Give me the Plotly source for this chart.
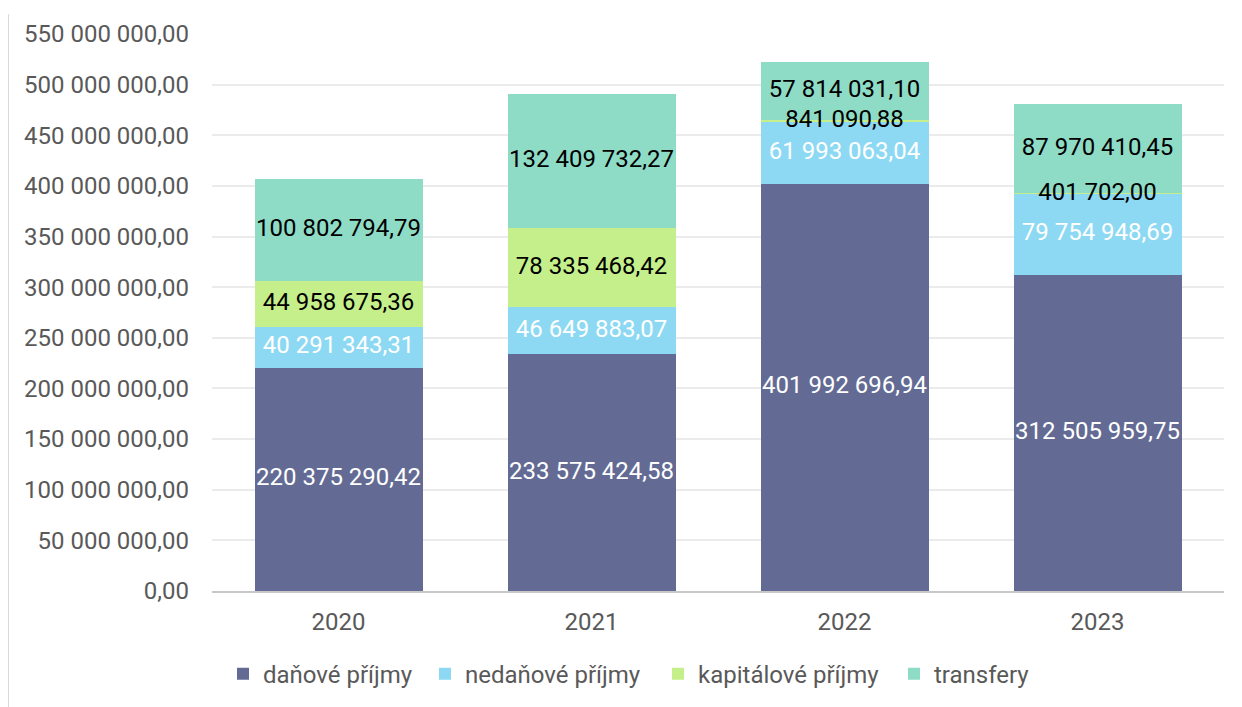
import plotly.graph_objects as go

years = ["2020", "2021", "2022", "2023"]
danove = [220375290.42, 233575424.58, 401992696.94, 312505959.75]
nedanove = [40291343.31, 46649883.07, 61993063.04, 79754948.69]
kapitalove = [44958675.36, 78335468.42, 841090.88, 401702.00]
transfery = [100802794.79, 132409732.27, 57814031.10, 87970410.45]

series = [
    ("daňové příjmy", danove, "#636b94", "white"),
    ("nedaňové příjmy", nedanove, "#8dd9f3", "white"),
    ("kapitálové příjmy", kapitalove, "#c5ef8a", "black"),
    ("transfery", transfery, "#8edcc6", "black"),
]

tick_values = [i * 50_000_000 for i in range(12)]


def fmt(v):
    s = f"{v:,.2f}"
    return s.replace(",", " ").replace(".", ",")


FONT = "Roboto"
FS = 24
# page body has 8px margin -> compensate
L, R, T, B = 204, 26, 20, 124
PW = 1242 - L - R
PH = 707 - T - B
legend_text_px = [255, 457, 690, 926]  # figure coords of legend text starts

fig = go.Figure()
base = [0.0] * len(years)
label_traces = []
legend_names = ["legend", "legend2", "legend3", "legend4"]
for i, (name, vals, color, tcolor) in enumerate(series):
    fig.add_trace(go.Bar(
        x=years, y=vals, name=name,
        marker=dict(color=color, line=dict(width=0)),
        hoverinfo="skip", legend=legend_names[i],
    ))
    mids = [b + v / 2 for b, v in zip(base, vals)]
    label_traces.append(go.Scatter(
        x=years, y=mids, mode="text", text=[fmt(v) for v in vals],
        textfont=dict(family=FONT, size=FS, color=tcolor),
        showlegend=False, hoverinfo="skip",
    ))
    base = [b + v for b, v in zip(base, vals)]
for t in label_traces:
    fig.add_trace(t)

legend_common = dict(orientation="h", yanchor="middle", y=(PH - 667 + T) / PH,
                     xanchor="left", font=dict(family=FONT, size=FS, color="#595959"),
                     itemclick=False, bgcolor="rgba(0,0,0,0)")
legends = {}
for i, ln in enumerate(legend_names):
    legends[ln] = dict(legend_common, x=(legend_text_px[i] - 40 - L) / PW)

fig.update_layout(
    width=1242, height=707,
    barmode="stack", bargap=0.336,
    paper_bgcolor="white", plot_bgcolor="white",
    margin=dict(l=L, r=R, t=T, b=B),
    font=dict(family=FONT, size=FS, color="#595959"),
    showlegend=True,
    xaxis=dict(showgrid=False, showline=True, linecolor="#c8c8c8", linewidth=2,
               ticks="", ticklabelstandoff=8,
               tickfont=dict(size=FS, color="#595959")),
    yaxis=dict(range=[0, 550_000_000], tickvals=tick_values,
               ticktext=[fmt(v) for v in tick_values],
               showgrid=True, gridcolor="#ebebeb", gridwidth=2,
               zeroline=False, showline=False, ticks="",
               ticklabelstandoff=22,
               tickfont=dict(size=FS, color="#595959")),
    shapes=[dict(type="line", xref="paper", yref="paper",
                 x0=(0 - L) / PW, x1=(0 - L) / PW,
                 y0=-B / PH, y1=1 + T / PH,
                 line=dict(color="#d9d9d9", width=2))],
    **legends,
)

fig.write_html("out.html")
